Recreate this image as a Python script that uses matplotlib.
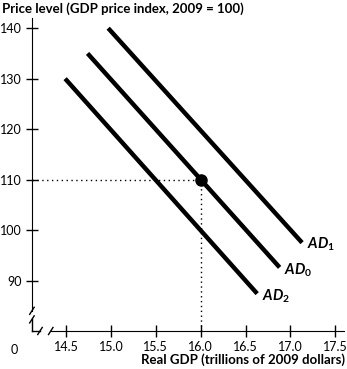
import matplotlib
matplotlib.use("Agg")
import matplotlib.pyplot as plt
import numpy as np

plt.rcParams['font.family'] = ['Lato', 'DejaVu Sans']
plt.rcParams['mathtext.fontset'] = 'custom'
plt.rcParams['mathtext.it'] = 'Lato:bold:italic'
plt.rcParams['mathtext.rm'] = 'Lato:bold'

# aggregate demand curves: (x start, y start), (x end, y end)
ad1_x = [14.97, 17.13]
ad1_y = [140.0, 97.5]
ad0_x = [14.74, 16.88]
ad0_y = [135.0, 92.6]
ad2_x = [14.49, 16.63]
ad2_y = [130.0, 87.4]

eq_x = 16.0
eq_y = 110.0

x_ticks = [14.5, 15.0, 15.5, 16.0, 16.5, 17.0, 17.5]
y_ticks = [90, 100, 110, 120, 130, 140]

fig = plt.figure(figsize=(3.47, 3.69), dpi=100)
ax = fig.add_axes([0.092, 0.103, 0.9, 0.848])

xmin, xmax = 14.12, 17.6
ymin, ymax = 80.0, 142.0
ax.set_xlim(xmin, xmax)
ax.set_ylim(ymin, ymax)

lw = 3.2
ax.plot(ad1_x, ad1_y, color='black', lw=lw, solid_capstyle='butt')
ax.plot(ad0_x, ad0_y, color='black', lw=lw, solid_capstyle='butt')
ax.plot(ad2_x, ad2_y, color='black', lw=lw, solid_capstyle='butt')

ax.plot([xmin, eq_x], [eq_y, eq_y], color='black', lw=1, ls=(0, (1, 2.5)))
ax.plot([eq_x, eq_x], [ymin, eq_y], color='black', lw=1, ls=(0, (1, 2.5)))
ax.plot(eq_x, eq_y, 'o', color='black', ms=8, zorder=5)

lab = dict(fontsize=10.5, va='center', ha='left')
ax.text(ad1_x[1] + 0.05, ad1_y[1] - 0.3, r'$AD_{\mathrm{1}}$', **lab)
ax.text(ad0_x[1] + 0.05, ad0_y[1] - 0.6, r'$AD_{\mathrm{0}}$', **lab)
ax.text(ad2_x[1] + 0.05, ad2_y[1] - 0.6, r'$AD_{\mathrm{2}}$', **lab)

# axes with breaks
for s in ['top', 'right']:
    ax.spines[s].set_visible(False)
ax.spines['left'].set_bounds(84.0, ymax)
ax.spines['bottom'].set_bounds(14.33, xmax)
ax.plot([xmin, xmin], [ymin, 82.3], color='black', lw=1, clip_on=False)
ax.plot([xmin, 14.21], [ymin, ymin], color='black', lw=1, clip_on=False)
dx, dy = 0.025, 0.7
for yy in [84.0, 82.3]:
    ax.plot([xmin - dx, xmin + dx], [yy - dy, yy + dy], color='black', lw=1, clip_on=False)
for xx in [14.21, 14.33]:
    ax.plot([xx - dx, xx + dx], [ymin - dy, ymin + dy], color='black', lw=1, clip_on=False)

ax.set_xticks(x_ticks)
ax.set_xticklabels([f'{v:.1f}' for v in x_ticks])
ax.set_yticks(y_ticks)
ax.set_yticklabels([str(v) for v in y_ticks])
ax.tick_params(direction='inout', length=8, width=1, labelsize=9, pad=3)

ax.text(-0.055, -0.04, '0', transform=ax.transAxes, fontsize=9, ha='center', va='top')
fig.text(0.005, 0.995, 'Price level (GDP price index, 2009 = 100)', fontsize=9.5,
         fontweight='bold', ha='left', va='top')
fig.text(0.995, 0.008, 'Real GDP (trillions of 2009 dollars)', fontsize=9.5,
         fontweight='bold', ha='right', va='bottom')

fig.savefig('out.png', dpi=100)
